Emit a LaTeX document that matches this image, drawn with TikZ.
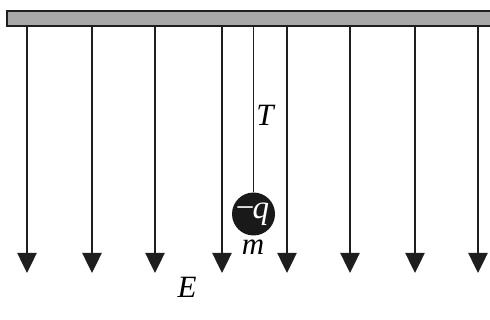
\documentclass[tikz,border=0pt]{standalone}
\usepackage{fontspec}
\setmainfont{Liberation Serif}
\usetikzlibrary{arrows.meta}
\definecolor{ink}{RGB}{30,30,30}
\definecolor{ballc}{RGB}{25,25,25}
\definecolor{barfill}{RGB}{168,168,168}
\begin{document}
\begin{tikzpicture}[x=1pt,y=-1pt,
  fieldline/.style={line width=2.5pt, draw=ink, -{Triangle[width=19pt,length=20pt]}},
  lbl/.style={font=\fontsize{31}{36}\selectfont\itshape, inner sep=0pt, anchor=base}]
\useasboundingbox (0,0) rectangle (490,320);
\node[draw=ink, line width=2pt, fill=barfill,
  minimum width=490pt, minimum height=15pt, inner sep=0pt, anchor=north west] (bar) at (6,10) {};
\foreach \x [count=\i] in {27,92,155,222,287,350,415,478} {
  \coordinate (top\i) at (\x,25);
  \coordinate (end\i) at (\x,273);
  \draw[fieldline] (top\i) -- (end\i);
}
\node[circle, fill=ballc, minimum size=43pt, inner sep=0pt,
  text=white, font=\fontsize{33}{38}\selectfont] (ball) at (253.5,214) {\kern-2pt−\kern-2pt\itshape q};
\coordinate (hook) at (253.5,25);
\draw[line width=1.8pt, draw=ink] (hook) -- (ball.north);
\node[lbl] (T) at (265,126) {T};
\node[lbl] (m) at (253,255) {m};
\node[lbl] (E) at (187,298) {E};
\end{tikzpicture}
\end{document}
